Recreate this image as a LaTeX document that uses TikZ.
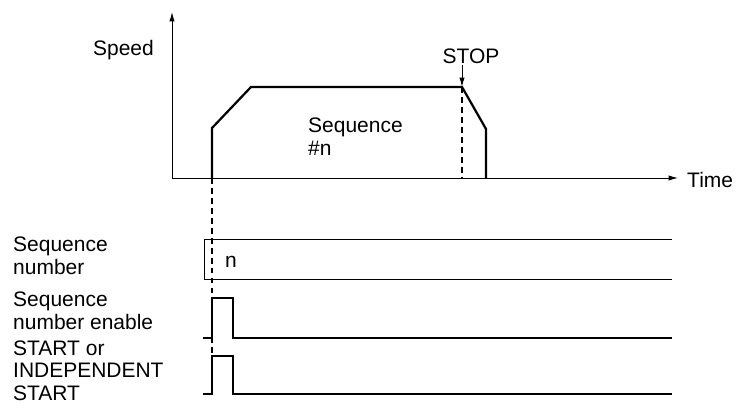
\documentclass[tikz,border=0pt]{standalone}
\usepackage{fontspec}
\setmainfont{Liberation Sans}
\usetikzlibrary{arrows.meta,calc}

\begin{document}
\begin{tikzpicture}[x=.03cm,y=.03cm,
  font=\fontsize{17.9}{18.8}\selectfont,
  every node/.style={inner sep=0pt},
  signal/.style={line width=1.9pt,line join=miter},
  thinline/.style={line width=.85pt},
  axisline/.style={line width=.85pt,-{Latex[length=8pt,width=4.5pt]}},
  guide/.style={line width=1.1pt,dash pattern=on 5pt off 3.5pt}]
\useasboundingbox (0,0) rectangle (737,-418);

\path (172,-178) coordinate (O) (172,-12) coordinate (Y) (678,-178) coordinate (X);
\path (212,-178) coordinate (A) (212,-128) coordinate (B) (251,-87) coordinate (C)
      (462,-87) coordinate (D) (486,-129) coordinate (E) (486,-178) coordinate (F);
\path (462,-178) coordinate (Dt) (462,-65) coordinate (S) (212,-355) coordinate (At);
\path (672,-239) coordinate (Q1) (204,-239) coordinate (Q2)
      (204,-279) coordinate (Q3) (672,-279) coordinate (Q4);
\path (203,-338) coordinate (N1) (212,-298) coordinate (N2)
      (233,-298) coordinate (N3) (672,-338) coordinate (N4);
\path (203,-394) coordinate (T1) (212,-356) coordinate (T2)
      (233,-356) coordinate (T3) (672,-394) coordinate (T4);

\draw[axisline] (O) -- (Y);
\draw[axisline] (O) -- (X);
\draw[signal] (A) -- (B) -- (C) -- (D) -- (E) -- (F);
\draw[guide] (D) -- (Dt);
\draw[guide] (A) -- (At);
\draw[axisline] (S) -- (D);

\draw[thinline] (Q1) -- (Q2) -- (Q3) -- (Q4);
\draw[signal] (N1) -| (N2) -- (N3) |- (N4);
\draw[signal] (T1) -| (T2) -- (T3) |- (T4);

\node[anchor=base east] (speed) at (154,-55) {Speed};
\node[anchor=west] (time) at (687,-180) {Time};
\node[anchor=base] (stop) at (471,-63) {STOP};
\node[anchor=base west,align=left] (seq) at (308,-155) {Sequence\\\#n};
\node[anchor=base west] (num) at (225,-267) {n};

\node[anchor=base west,align=left] (seqnum) at (13,-274) {Sequence\\number};
\node[anchor=base west,align=left] (enable) at (13,-329) {Sequence\\number enable};
\node[anchor=base west,align=left] (start) at (13,-400) {START or\\INDEPENDENT\\START};

\end{tikzpicture}
\end{document}
